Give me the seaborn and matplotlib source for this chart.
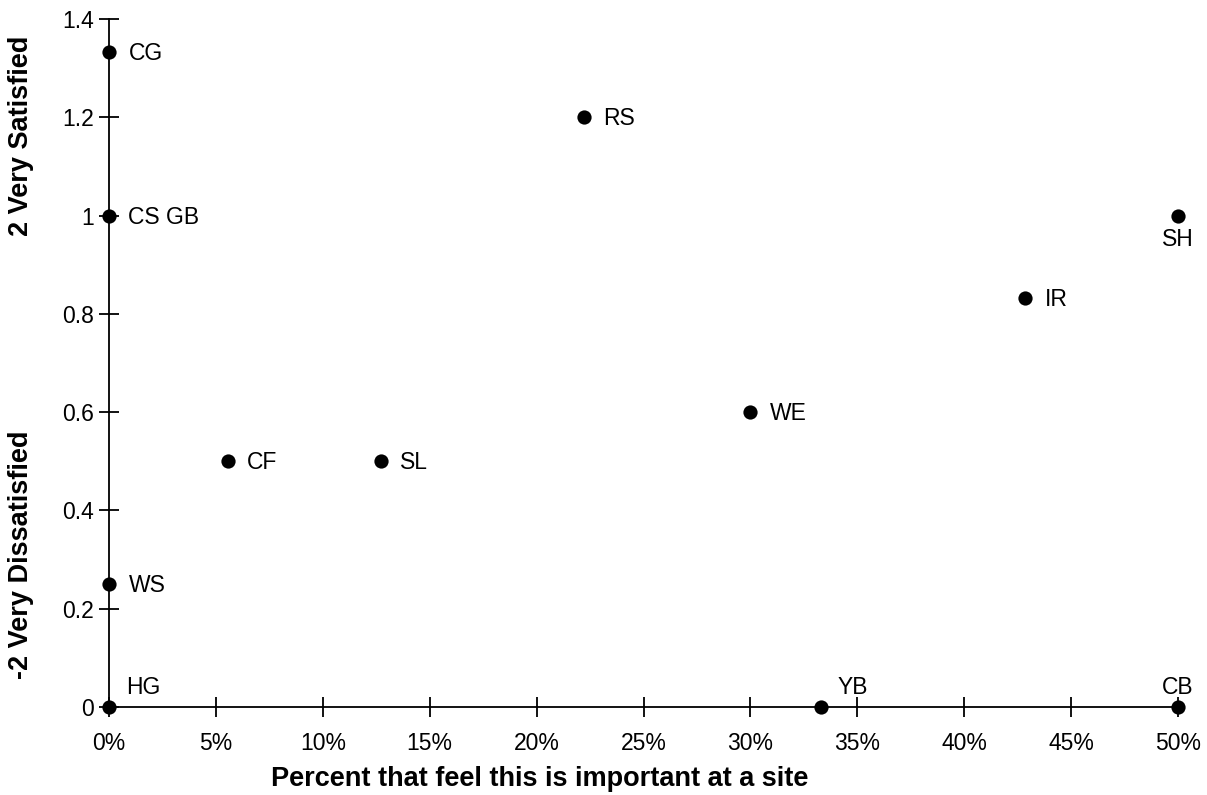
import pandas as pd
import seaborn as sns
import matplotlib.pyplot as plt
from matplotlib.ticker import PercentFormatter, FuncFormatter

# site codes, share that feel it is important, mean satisfaction
sites = ["CG", "RS", "CS GB", "SH", "IR", "WE", "CF", "SL", "WS", "HG", "YB", "CB"]
importance = [0.0, 0.222, 0.0, 0.5, 0.4286, 0.30, 0.0556, 0.127, 0.0, 0.0, 0.333, 0.5]
satisfaction = [1.333, 1.2, 1.0, 1.0, 0.833, 0.6, 0.5, 0.5, 0.25, 0.0, 0.0, 0.0]
# where each label sits relative to its dot
label_pos = ["right", "right", "right", "below", "right", "right", "right", "right", "right",
             "above", "above", "above"]

df = pd.DataFrame({"site": sites, "x": importance, "y": satisfaction, "pos": label_pos})

sns.set_style("ticks")
plt.rcParams["font.family"] = ["Liberation Sans", "DejaVu Sans"]
plt.rcParams["text.color"] = "black"

fig = plt.figure(figsize=(12.07, 7.95), dpi=100)
ax = fig.add_axes([0.0903, 0.1107, 0.976 - 0.0903, 0.976 - 0.1107])

sns.scatterplot(data=df, x="x", y="y", color="black", s=105, edgecolor="black",
                linewidth=0, ax=ax, clip_on=False, zorder=5, legend=False)

for _, r in df.iterrows():
    if r["pos"] == "right":
        ax.annotate(r["site"], (r["x"], r["y"]), xytext=(14, -1), textcoords="offset points",
                    ha="left", va="center", fontsize=16.5)
    elif r["pos"] == "below":
        ax.annotate(r["site"], (r["x"], r["y"]), xytext=(0, -9), textcoords="offset points",
                    ha="center", va="top", fontsize=16.5)
    else:
        dx = 12 if r["x"] < 0.45 else 0
        ax.annotate(r["site"], (r["x"], r["y"]), xytext=(dx, 6), textcoords="offset points",
                    ha="left" if dx else "center", va="bottom", fontsize=16.5)

ax.set_xlim(0, 0.5)
ax.set_ylim(0, 1.4)
ax.set_xticks([i * 0.05 for i in range(11)])
ax.set_yticks([i * 0.2 for i in range(8)])
ax.xaxis.set_major_formatter(PercentFormatter(1.0, decimals=0))
ax.yaxis.set_major_formatter(FuncFormatter(lambda v, p: f"{v:.1f}" if abs(v - round(v)) > 1e-9 else f"{int(round(v))}"))
ax.tick_params(axis="both", direction="inout", length=14, width=1.3, colors="black",
               labelsize=16.5, labelcolor="black")
ax.tick_params(axis="x", pad=11)
ax.tick_params(axis="y", pad=4)
for s in ["top", "right"]:
    ax.spines[s].set_visible(False)
for s in ["left", "bottom"]:
    ax.spines[s].set_linewidth(1.3)
    ax.spines[s].set_color("black")
ax.set_xlabel("")
ax.set_ylabel("")

fig.text(0.447, 0.004, "Percent that feel this is important at a site", ha="center", va="bottom",
         fontsize=19.5, fontweight="bold")
fig.text(0.017, 0.829, "2 Very Satisfied", rotation=90, ha="center", va="center",
         fontsize=19.5, fontweight="bold")
fig.text(0.017, 0.302, "-2 Very Dissatisfied", rotation=90, ha="center", va="center",
         fontsize=19.5, fontweight="bold")

fig.savefig("out.png", dpi=100)
